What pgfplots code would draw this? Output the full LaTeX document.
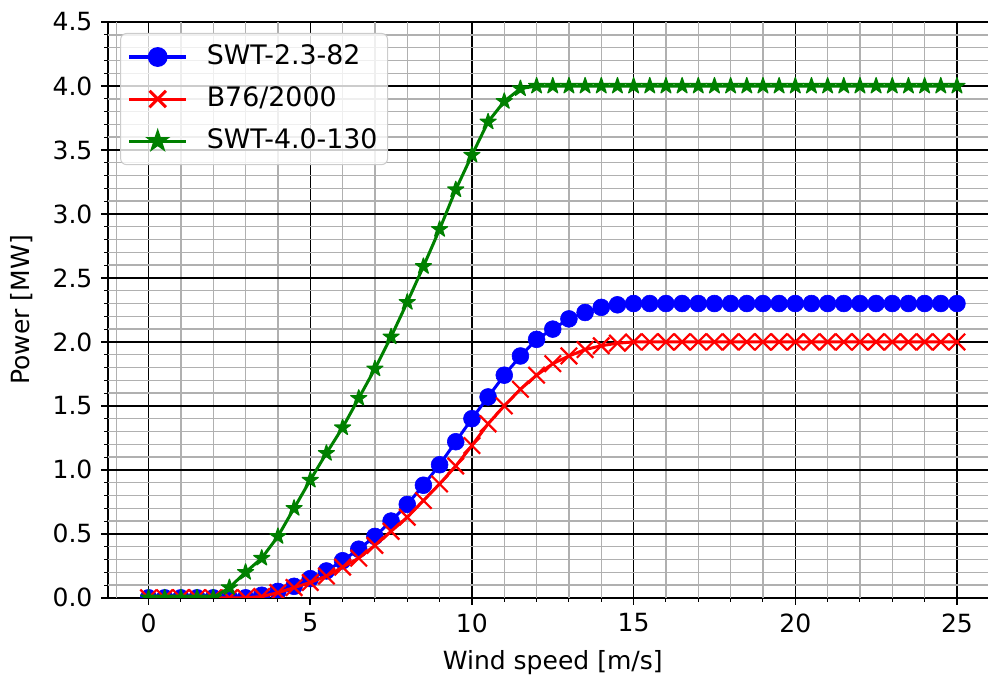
\documentclass[border=0pt]{standalone}
\usepackage{fontspec}
\setmainfont{DejaVu Sans}
\usepackage{pgfplots}
\usepackage{pgfplotstable}
\pgfplotsset{compat=1.18}
\usetikzlibrary{calc}
\definecolor{mplgrid}{RGB}{176,176,176}
\definecolor{mplgreen}{RGB}{0,128,0}
\definecolor{legedge}{RGB}{204,204,204}

% filled five-pointed star like matplotlib's '*'
\pgfdeclareplotmark{mplstar}{%
  \pgfpathmoveto{\pgfpointpolar{90}{\pgfplotmarksize}}%
  \pgfpathlineto{\pgfpointpolar{126}{0.382\pgfplotmarksize}}%
  \pgfpathlineto{\pgfpointpolar{162}{\pgfplotmarksize}}%
  \pgfpathlineto{\pgfpointpolar{198}{0.382\pgfplotmarksize}}%
  \pgfpathlineto{\pgfpointpolar{234}{\pgfplotmarksize}}%
  \pgfpathlineto{\pgfpointpolar{270}{0.382\pgfplotmarksize}}%
  \pgfpathlineto{\pgfpointpolar{306}{\pgfplotmarksize}}%
  \pgfpathlineto{\pgfpointpolar{342}{0.382\pgfplotmarksize}}%
  \pgfpathlineto{\pgfpointpolar{18}{\pgfplotmarksize}}%
  \pgfpathlineto{\pgfpointpolar{54}{0.382\pgfplotmarksize}}%
  \pgfpathclose
  \pgfusepathqfillstroke
}

% wind speed [m/s], power [MW] for the three turbines
\pgfplotstableread{
x     swt   b76   swtf
0.0   0.00  0.00  0.00
0.5   0.00  0.00  0.00
1.0   0.00  0.00  0.00
1.5   0.00  0.00  0.00
2.0   0.00  0.00  0.00
2.5   0.00  0.00  0.08
3.0   0.00  0.00  0.20
3.5   0.02  0.01  0.31
4.0   0.05  0.04  0.48
4.5   0.09  0.08  0.70
5.0   0.15  0.12  0.92
5.5   0.21  0.17  1.13
6.0   0.29  0.24  1.33
6.5   0.38  0.31  1.56
7.0   0.48  0.41  1.79
7.5   0.60  0.52  2.04
8.0   0.73  0.63  2.31
8.5   0.88  0.76  2.59
9.0   1.04  0.89  2.88
9.5   1.22  1.03  3.19
10.0  1.40  1.19  3.46
10.5  1.57  1.36  3.72
11.0  1.74  1.50  3.88
11.5  1.89  1.63  3.98
12.0  2.02  1.74  4.00
12.5  2.10  1.83  4.00
13.0  2.18  1.89  4.00
13.5  2.23  1.94  4.00
14.0  2.27  1.97  4.00
14.5  2.29  1.99  4.00
15.0  2.30  2.00  4.00
15.5  2.30  2.00  4.00
16.0  2.30  2.00  4.00
16.5  2.30  2.00  4.00
17.0  2.30  2.00  4.00
17.5  2.30  2.00  4.00
18.0  2.30  2.00  4.00
18.5  2.30  2.00  4.00
19.0  2.30  2.00  4.00
19.5  2.30  2.00  4.00
20.0  2.30  2.00  4.00
20.5  2.30  2.00  4.00
21.0  2.30  2.00  4.00
21.5  2.30  2.00  4.00
22.0  2.30  2.00  4.00
22.5  2.30  2.00  4.00
23.0  2.30  2.00  4.00
23.5  2.30  2.00  4.00
24.0  2.30  2.00  4.00
24.5  2.30  2.00  4.00
25.0  2.30  2.00  4.00
}\powercurves

\begin{document}
\fontsize{12.5}{15}\selectfont
\begin{tikzpicture}
\begin{axis}[
    scale only axis,
    width=444pt, height=287.5pt,
    xmin=-1.25, xmax=26.25,
    ymin=0, ymax=4.5,
    xtick={0,5,...,25},
    ytick={0,0.5,...,4.5},
    minor x tick num=4,
    minor y tick num=4,
    tick align=outside,
    tick pos=left,
    major tick length=3.5pt,
    minor tick length=2pt,
    major tick style={black, line width=0.75pt},
    minor tick style={black, line width=0.5pt},
    axis line style={line width=0.75pt},
    /pgf/number format/assume math mode=true,
    yticklabel style={/pgf/number format/.cd, fixed, fixed zerofill, precision=1},
    xlabel={Wind speed [m/s]},
    ylabel={Power [MW]},
    every axis x label/.style={at={(axis description cs:0.5,-0.113)}, anchor=center},
    every axis y label/.style={at={(axis description cs:-0.0968,0.5)}, anchor=center, rotate=90},
    clip marker paths=true,
    legend cell align=left,
    legend image code/.code={
        \draw[fill opacity=1, draw opacity=1, mark repeat=2, mark phase=2, #1, mark options={fill opacity=1, draw opacity=1}]
            plot coordinates {(0pt,0pt) (14.25pt,0pt) (28.5pt,0pt)};
    },
    legend style={
        at={(0.0135,0.981)}, anchor=north west,
        draw=legedge, line width=0.5pt, rounded corners=3pt,
        fill=white, fill opacity=0.8, text opacity=1,
        inner xsep=3.5pt, inner ysep=4pt,
        row sep=5.5pt,
        font=\fontsize{13.4}{16}\selectfont,
        nodes={inner sep=1.5pt, text height=9.8pt, text depth=2.7pt},
        /tikz/every even column/.append style={column sep=4pt},
        /tikz/every odd column/.append style={column sep=8pt},
    },
]
% grid, drawn in matplotlib's order: x major, x minor, y major, y minor
\pgfplotsinvokeforeach{0,5,10,15,20,25}{
    \draw[black, line width=0.7pt] (axis cs:#1,0) -- (axis cs:#1,4.5);
}
\pgfplotsinvokeforeach{-1,1,2,3,4,6,7,8,9,11,12,13,14,16,17,18,19,21,22,23,24,26}{
    \draw[mplgrid, line width=0.7pt] (axis cs:#1,0) -- (axis cs:#1,4.5);
}
\pgfplotsinvokeforeach{0.5,1.0,1.5,2.0,2.5,3.0,3.5,4.0}{
    \draw[black, line width=0.7pt] (axis cs:-1.25,#1) -- (axis cs:26.25,#1);
}
\pgfplotsinvokeforeach{0.1,0.2,0.3,0.4,0.6,0.7,0.8,0.9,1.1,1.2,1.3,1.4,1.6,1.7,1.8,1.9,2.1,2.2,2.3,2.4,2.6,2.7,2.8,2.9,3.1,3.2,3.3,3.4,3.6,3.7,3.8,3.9,4.1,4.2,4.3,4.4}{
    \draw[mplgrid, line width=0.7pt] (axis cs:-1.25,#1) -- (axis cs:26.25,#1);
}

\addplot[blue, line width=1.5pt, mark=*, mark size=4.2pt, mark options={fill=blue, draw=blue, line width=0.3pt}] table[x=x, y=swt] {\powercurves};
\addlegendentry{SWT-2.3-82}
\addplot[red, line width=1.5pt, mark=x, mark size=5.8pt, mark options={line width=1.1pt}] table[x=x, y=b76] {\powercurves};
\addlegendentry{B76/2000}
\addplot[mplgreen, line width=1.5pt, mark=mplstar, mark size=4.2pt, mark options={fill=mplgreen, draw=mplgreen, line width=0.6pt, line join=round}] table[x=x, y=swtf] {\powercurves};
\addlegendentry{SWT-4.0-130}

\coordinate (TR) at (axis cs:25.96,4.5);
\end{axis}
\pgfresetboundingbox
\path[use as bounding box] ($(current axis.south west)+(-54pt,-41.5pt)$) rectangle ($(TR)+(0pt,11pt)$);
\end{tikzpicture}
\end{document}
